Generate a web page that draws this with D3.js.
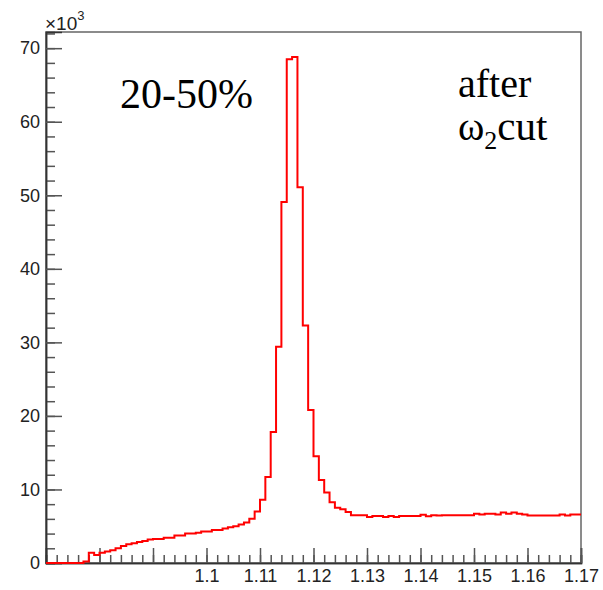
<!DOCTYPE html>
<html>
<head>
<meta charset="utf-8">
<script src="https://cdn.jsdelivr.net/npm/d3@7"></script>
<style>
  body { margin: 0; background: #fff; }
  svg { display: block; }
  .tick text { font-family: "Liberation Sans", Arial, sans-serif; }
</style>
</head>
<body>
<svg id="chart" width="603" height="590"></svg>
<script>
// histogram: 100 bins of width 0.001 from 1.07 to 1.17, counts in units of 10^3
const xRange = [1.07, 1.17];
const binWidth = 0.001;
const counts = [
  0, 0, 0, 0, 0, 0, 0, 0.2, 1.4, 1.1,
  1.4, 1.55, 1.75, 2.0, 2.3, 2.55, 2.7, 2.85, 3.0, 3.2,
  3.25, 3.25, 3.45, 3.45, 3.75, 3.75, 4.0, 4.0, 4.1, 4.3,
  4.3, 4.5, 4.5, 4.7, 4.85, 5.0, 5.25, 5.5, 6.0, 7.0,
  8.6, 11.7, 17.8, 29.4, 49.1, 68.5, 68.8, 51.1, 32.3, 20.8,
  14.5, 11.3, 9.6, 8.25, 7.5, 7.3, 6.95, 6.5, 6.5, 6.5,
  6.25, 6.4, 6.4, 6.25, 6.4, 6.25, 6.4, 6.4, 6.4, 6.4,
  6.55, 6.35, 6.5, 6.45, 6.5, 6.5, 6.5, 6.5, 6.5, 6.5,
  6.7, 6.6, 6.7, 6.7, 6.6, 6.85, 6.7, 6.85, 6.7, 6.6,
  6.45, 6.45, 6.45, 6.45, 6.45, 6.45, 6.6, 6.45, 6.6, 6.6
];
const xMajor = [1.07, 1.08, 1.09, 1.1, 1.11, 1.12, 1.13, 1.14, 1.15, 1.16, 1.17];
const xTickLabels = ['', '', '', '1.1', '1.11', '1.12', '1.13', '1.14', '1.15', '1.16', '1.17'];
const yMajor = [0, 10, 20, 30, 40, 50, 60, 70];
const yTickLabels = ['0', '10', '20', '30', '40', '50', '60', '70'];
const yMax = 72.2;

const margin = { top: 32, right: 22, bottom: 27, left: 46 };
const width = 603, height = 590;
const svg = d3.select('#chart');

const x = d3.scaleLinear().domain(xRange).range([margin.left, width - margin.right]);
const y = d3.scaleLinear().domain([0, yMax]).range([height - margin.bottom, margin.top]);

// frame
svg.append('rect')
  .attr('x', x(xRange[0]))
  .attr('y', y(yMax))
  .attr('width', x(xRange[1]) - x(xRange[0]))
  .attr('height', y(0) - y(yMax))
  .attr('fill', 'none')
  .attr('stroke', '#666')
  .attr('stroke-width', 1.5);

// minor ticks
const xMinor = d3.range(0, 51).map(i => xRange[0] + i * 0.002);
const yMinor = d3.range(0, yMax, 2);

const xAxisMinor = svg.append('g')
  .attr('transform', `translate(0,${y(0)})`)
  .call(d3.axisBottom(x).tickValues(xMinor).tickSize(-8).tickFormat(''));
const yAxisMinor = svg.append('g')
  .attr('transform', `translate(${x(xRange[0])},0)`)
  .call(d3.axisLeft(y).tickValues(yMinor).tickSize(-9).tickFormat(''));

const xAxis = svg.append('g')
  .attr('transform', `translate(0,${y(0)})`)
  .call(d3.axisBottom(x)
    .tickValues(xMajor)
    .tickSize(-15)
    .tickPadding(6)
    .tickFormat((d, i) => xTickLabels[i]));
const yAxis = svg.append('g')
  .attr('transform', `translate(${x(xRange[0])},0)`)
  .call(d3.axisLeft(y)
    .tickValues(yMajor)
    .tickSize(-16)
    .tickPadding(6)
    .tickFormat((d, i) => yTickLabels[i]));

[xAxisMinor, yAxisMinor, xAxis, yAxis].forEach((g) => {
  g.select('.domain').attr('stroke', '#333').attr('stroke-width', 1.5);
  g.selectAll('.tick line').attr('stroke', '#555').attr('stroke-width', 1.5);
});
xAxis.selectAll('.tick text').attr('font-size', 18).attr('fill', '#222');
yAxis.selectAll('.tick text').attr('font-size', 18).attr('fill', '#222');

// x10^3 label
const expLabel = svg.append('text')
  .attr('x', x(xRange[0]) - 1)
  .attr('y', 30)
  .style('font-family', '"Liberation Sans", Arial, sans-serif')
  .style('font-size', '19px')
  .attr('fill', '#222');
expLabel.append('tspan').text('\u00d710');
expLabel.append('tspan').attr('dy', -10).style('font-size', '13px').text('3');

// histogram outline
const pts = [[xRange[0], 0]];
counts.forEach((c, i) => {
  const lo = xRange[0] + i * binWidth;
  pts.push([lo, c], [lo + binWidth, c]);
});
svg.append('path')
  .datum(pts)
  .attr('fill', 'none')
  .attr('stroke', '#ff0000')
  .attr('stroke-width', 2)
  .attr('d', d3.line().x(d => x(d[0])).y(d => y(d[1])));

// annotations
const serif = '"Liberation Serif", "Times New Roman", serif';
svg.append('text')
  .attr('x', 120)
  .attr('y', 108)
  .attr('font-family', serif)
  .attr('font-size', 42)
  .attr('fill', '#000')
  .text('20-50%');
svg.append('text')
  .attr('x', 458)
  .attr('y', 97)
  .attr('font-family', serif)
  .attr('font-size', 40)
  .attr('fill', '#000')
  .text('after');
const cutLabel = svg.append('text')
  .attr('x', 458)
  .attr('y', 140)
  .attr('font-family', serif)
  .attr('font-size', 40)
  .attr('fill', '#000');
cutLabel.append('tspan').text('\u03c9');
cutLabel.append('tspan').attr('dy', 9).attr('font-size', 26).text('2');
cutLabel.append('tspan').attr('dy', -9).attr('font-size', 41).text('cut');
</script>
</body>
</html>
